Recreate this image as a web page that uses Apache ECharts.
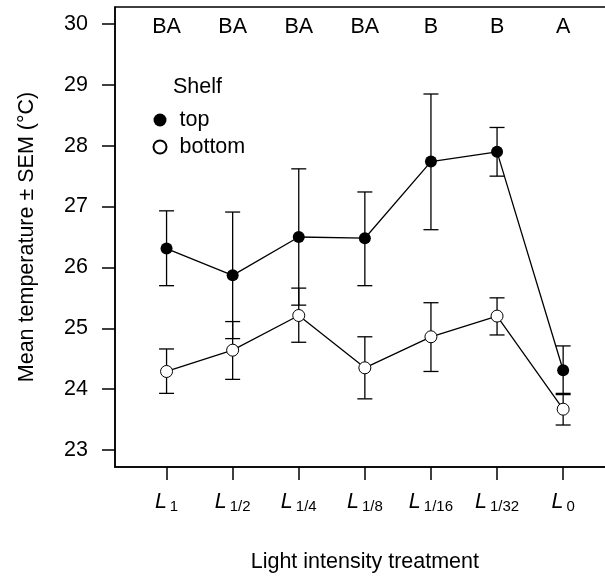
<!DOCTYPE html>
<html>
<head>
<meta charset="utf-8">
<script src="https://cdn.jsdelivr.net/npm/echarts@6/dist/echarts.min.js"></script>
<style>
  html, body { margin: 0; padding: 0; background: #fff; }
  #chart { width: 605px; height: 577px; }
</style>
</head>
<body>
<div id="chart"></div>
<script>
// treatments along the x axis (main letter + subscript)
const treatments = ['1', '1/2', '1/4', '1/8', '1/16', '1/32', '0']
// significance letters printed above each treatment
const letters = ['BA', 'BA', 'BA', 'BA', 'B', 'B', 'A']

// top shelf: mean and SEM limits (°C)
const topMean = [26.31, 25.87, 26.50, 26.48, 27.74, 27.90, 24.31]
const topUpper = [26.93, 26.91, 27.62, 27.24, 28.85, 28.30, 24.71]
const topLower = [25.70, 24.83, 25.38, 25.70, 26.62, 27.50, 23.91]

// bottom shelf
const bottomMean = [24.29, 24.64, 25.21, 24.35, 24.86, 25.20, 23.67]
const bottomUpper = [24.66, 25.11, 25.66, 24.86, 25.42, 25.50, 23.93]
const bottomLower = [23.93, 24.16, 24.77, 23.84, 24.29, 24.89, 23.41]

const yTicks = [23, 24, 25, 26, 27, 28, 29, 30]
const xTicks = [1, 2, 3, 4, 5, 6, 7]

const FONT = '"Liberation Sans", Arial, sans-serif'
const FS = 21.5

const chart = echarts.init(document.getElementById('chart'), null, { renderer: 'canvas' })

function errorBars(lower, upper) {
  return lower.map((lo, i) => [i + 1, lo, upper[i]])
}

function renderErrorBar(params, api) {
  const x = api.value(0)
  const pLo = api.coord([x, api.value(1)])
  const pHi = api.coord([x, api.value(2)])
  const half = 7.5
  const style = { stroke: '#000', lineWidth: 1.3, fill: null }
  return {
    type: 'group',
    children: [
      { type: 'line', shape: { x1: pLo[0], y1: pLo[1], x2: pHi[0], y2: pHi[1] }, style },
      { type: 'line', shape: { x1: pHi[0] - half, y1: pHi[1], x2: pHi[0] + half, y2: pHi[1] }, style },
      { type: 'line', shape: { x1: pLo[0] - half, y1: pLo[1], x2: pLo[0] + half, y2: pLo[1] }, style }
    ]
  }
}

const option = {
  backgroundColor: '#fff',
  animation: false,
  textStyle: { fontFamily: FONT },
  title: {
    text: 'Shelf',
    left: 173,
    top: 76,
    padding: 0,
    textStyle: { fontFamily: FONT, fontSize: FS, fontWeight: 'normal', color: '#000' }
  },
  legend: {
    orient: 'vertical',
    left: 152.5,
    top: 108,
    padding: 0,
    itemGap: 3,
    itemWidth: 13,
    itemHeight: 13,
    icon: 'circle',
    data: ['top', 'bottom'],
    textStyle: { fontFamily: FONT, fontSize: FS, color: '#000', lineHeight: 24, padding: [0, 0, 0, 8] }
  },
  grid: {
    left: 115,
    top: 7,
    width: 499.7,
    height: 460,
    outerBoundsMode: 'none',
    containLabel: false,
    show: true,
    borderColor: '#000',
    borderWidth: 1.5,
    backgroundColor: 'transparent'
  },
  xAxis: {
    type: 'value',
    min: 0.22,
    max: 7.78,
    name: 'Light intensity treatment',
    nameLocation: 'middle',
    nameGap: 84,
    nameTextStyle: { fontFamily: FONT, fontSize: FS, color: '#000' },
    splitLine: { show: false },
    axisLine: { show: true, lineStyle: { color: '#000', width: 1.5 } },
    axisTick: { show: true, length: 13, customValues: xTicks, lineStyle: { color: '#000', width: 1.5 } },
    axisLabel: {
      margin: 24,
      customValues: xTicks,
      formatter: v => '{i|L}{s|' + treatments[Math.round(v) - 1] + '}',
      rich: {
        i: { fontFamily: FONT, fontSize: FS, fontStyle: 'italic', color: '#000' },
        s: { fontFamily: FONT, fontSize: 15, color: '#000', padding: [8, 0, 0, 3] }
      }
    }
  },
  yAxis: {
    type: 'value',
    min: 22.72,
    max: 30.28,
    name: 'Mean temperature ± SEM (°C)',
    nameLocation: 'middle',
    nameGap: 77,
    nameTextStyle: { fontFamily: FONT, fontSize: FS, color: '#000' },
    splitLine: { show: false },
    axisLine: { show: true, lineStyle: { color: '#000', width: 1.5 } },
    axisTick: { show: true, length: 13, customValues: yTicks, lineStyle: { color: '#000', width: 1.5 } },
    axisLabel: {
      margin: 27,
      customValues: yTicks,
      fontFamily: FONT,
      fontSize: FS,
      color: '#000'
    }
  },
  series: [
    {
      name: 'topErr',
      type: 'custom',
      renderItem: renderErrorBar,
      data: errorBars(topLower, topUpper),
      encode: { x: 0, y: [1, 2] },
      z: 1,
      silent: true
    },
    {
      name: 'bottomErr',
      type: 'custom',
      renderItem: renderErrorBar,
      data: errorBars(bottomLower, bottomUpper),
      encode: { x: 0, y: [1, 2] },
      z: 1,
      silent: true
    },
    {
      name: 'top',
      type: 'line',
      data: topMean.map((v, i) => [i + 1, v]),
      symbol: 'circle',
      symbolSize: 12,
      showAllSymbol: true,
      itemStyle: { color: '#000' },
      lineStyle: { color: '#000', width: 1.3 },
      z: 3
    },
    {
      name: 'bottom',
      type: 'line',
      data: bottomMean.map((v, i) => [i + 1, v]),
      symbol: 'circle',
      symbolSize: 12,
      showAllSymbol: true,
      itemStyle: { color: '#fff', borderColor: '#000', borderWidth: 1 },
      lineStyle: { color: '#000', width: 1.3 },
      z: 3
    },
    {
      name: 'letters',
      type: 'custom',
      data: letters.map((t, i) => [i + 1, 30]),
      encode: { x: 0, y: 1 },
      silent: true,
      renderItem: (params, api) => {
        const p = api.coord([api.value(0), api.value(1)])
        return {
          type: 'text',
          x: p[0],
          y: p[1] + 3,
          style: {
            text: letters[params.dataIndex],
            fill: '#000',
            font: FS + 'px ' + FONT,
            align: 'center',
            verticalAlign: 'middle'
          }
        }
      }
    }
  ]
}

chart.setOption(option)
</script>
</body>
</html>
